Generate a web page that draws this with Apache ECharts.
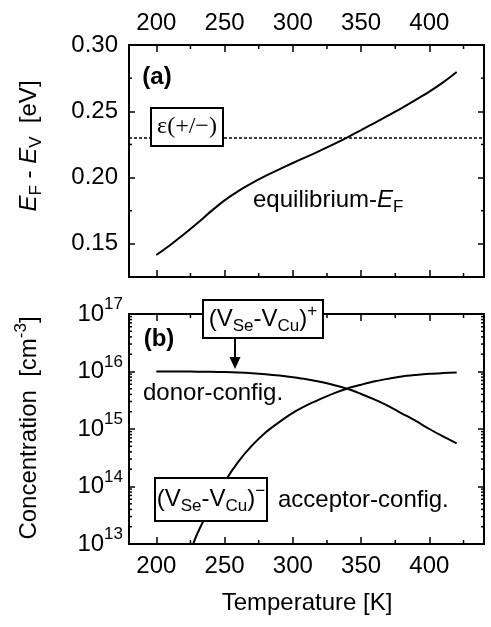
<!DOCTYPE html>
<html>
<head>
<meta charset="utf-8">
<script src="https://cdn.jsdelivr.net/npm/echarts@6/dist/echarts.min.js"></script>
<style>
  html, body { margin: 0; padding: 0; background: #fff; }
  #chart { width: 491px; height: 627px; }
</style>
</head>
<body>
<div id="chart"></div>
<script>
// ---- data -------------------------------------------------------------
// (a) equilibrium Fermi level above the valence band, eV
const temperature = [200, 210, 220, 230, 240, 250, 260, 270, 280, 290, 300, 310,
                     320, 330, 340, 350, 360, 370, 380, 390, 400, 410, 420];
const fermiLevel = [0.1416, 0.149, 0.157, 0.1655, 0.1745, 0.1828, 0.1898, 0.1958,
                    0.2012, 0.2062, 0.2110, 0.2156, 0.2203, 0.2252, 0.2304, 0.2358,
                    0.2413, 0.2469, 0.2526, 0.2586, 0.2648, 0.2718, 0.2797];
// charge transition level eps(+/-)
const transitionLevel = 0.23;

// (b) concentrations of the two complex configurations, cm^-3
const donorConc = [1.0e16, 1.0e16, 1.0e16, 9.95e15, 9.89e15, 9.77e15, 9.59e15, 9.33e15,
                   8.97e15, 8.51e15, 7.94e15, 7.33e15, 6.61e15, 5.82e15, 5.01e15,
                   4.07e15, 3.24e15, 2.51e15, 1.86e15, 1.38e15, 1.0e15, 7.41e14, 5.62e14];
const acceptorTemp = [227, 230, 240, 250, 260, 270, 280, 290, 300, 310, 320, 330,
                      340, 350, 360, 370, 380, 390, 400, 410, 420];
const acceptorConc = [1.0e13, 1.51e13, 4.57e13, 1.20e14, 2.69e14, 5.13e14, 8.71e14,
                      1.32e15, 1.91e15, 2.57e15, 3.31e15, 4.17e15, 5.07e15, 5.89e15,
                      6.76e15, 7.50e15, 8.22e15, 8.71e15, 9.12e15, 9.38e15, 9.59e15];

// ---- ticks ------------------------------------------------------------
const tempMajor = [200, 250, 300, 350, 400];
const tempMinor = [225, 275, 325, 375, 425];
const energyMajor = [0.15, 0.20, 0.25, 0.30];
const energyMinor = [0.175, 0.225, 0.275];
const concMajor = [1e13, 1e14, 1e15, 1e16, 1e17];
const concMinor = [];
for (let e = 13; e < 17; e++) {
  for (let m = 2; m <= 9; m++) concMinor.push(m * Math.pow(10, e));
}

const FONT = '"Liberation Sans", Arial, sans-serif';
const BLACK = '#000';
const T_MIN = 180, T_MAX = 440;
const E_MIN = 0.125, E_MAX = 0.30;
const C_MIN = 1e13, C_MAX = 1e17;

function tickAxis(type, grid, position, min, max, values, len, label) {
  const ax = {
    type: type, gridIndex: grid, position: position, min: min, max: max,
    axisLine: { show: false }, splitLine: { show: false },
    axisTick: { show: true, inside: true, length: len, customValues: values,
                lineStyle: { color: BLACK, width: 1.5 } },
    axisLabel: { show: false }
  };
  if (type === 'log') ax.logBase = 10;
  if (label) ax.axisLabel = Object.assign({ show: true, customValues: values }, label);
  return ax;
}

const tempLabel = { color: BLACK, fontFamily: FONT, fontSize: 24, margin: 10 };
const energyLabel = { color: BLACK, fontFamily: FONT, fontSize: 24, margin: 11, formatter: v => v.toFixed(2) };
const concLabel = {
  color: BLACK, margin: 6,
  formatter: v => '{b|10}{s|' + Math.round(Math.log10(v)) + '}',
  rich: {
    b: { fontFamily: FONT, fontSize: 24, color: BLACK, lineHeight: 36 },
    s: { fontFamily: FONT, fontSize: 17, color: BLACK, verticalAlign: 'top', lineHeight: 17 }
  }
};

const xAxes = [
  tickAxis('value', 0, 'bottom', T_MIN, T_MAX, tempMajor, 7),
  tickAxis('value', 0, 'top', T_MIN, T_MAX, tempMajor, 7, tempLabel),
  tickAxis('value', 1, 'bottom', T_MIN, T_MAX, tempMajor, 7, tempLabel),
  tickAxis('value', 1, 'top', T_MIN, T_MAX, tempMajor, 7)
];
const yAxes = [
  tickAxis('value', 0, 'left', E_MIN, E_MAX, energyMajor, 6, energyLabel),
  tickAxis('value', 0, 'right', E_MIN, E_MAX, energyMajor, 6),
  tickAxis('log', 1, 'left', C_MIN, C_MAX, concMajor, 6, concLabel),
  tickAxis('log', 1, 'right', C_MIN, C_MAX, concMajor, 6)
];

const lineStyle = { color: BLACK, width: 2 };

const option = {
  animation: false,
  backgroundColor: '#fff',
  grid: [
    { left: 129, right: 7, top: 45, height: 232, show: true, borderColor: BLACK, borderWidth: 2, backgroundColor: 'transparent' },
    { left: 129, right: 7, top: 314, height: 230, show: true, borderColor: BLACK, borderWidth: 2, backgroundColor: 'transparent' }
  ],
  xAxis: xAxes,
  yAxis: yAxes,
  series: [
    { name: 'equilibrium-EF', type: 'line', xAxisIndex: 0, yAxisIndex: 0, showSymbol: false, smooth: 0.3,
      lineStyle: lineStyle, data: temperature.map((t, i) => [t, fermiLevel[i]]),
      markLine: {
        silent: true, symbol: 'none', label: { show: false },
        lineStyle: { color: BLACK, width: 1.5, type: [3, 2] },
        data: [{ yAxis: transitionLevel }]
      } },
    { name: 'donor-config.', type: 'line', xAxisIndex: 2, yAxisIndex: 2, showSymbol: false, smooth: 0.3,
      lineStyle: lineStyle, data: temperature.map((t, i) => [t, donorConc[i]]) },
    { name: 'acceptor-config.', type: 'line', xAxisIndex: 2, yAxisIndex: 2, showSymbol: false, smooth: 0.3,
      lineStyle: lineStyle, data: acceptorTemp.map((t, i) => [t, acceptorConc[i]]) }
  ]
};

const chart = echarts.init(document.getElementById('chart'), null, { renderer: 'canvas' });
chart.setOption(option);

// ---- annotations --------------------------------------------------------
const textEl = (text, x, y, extra) => ({
  type: 'text', x: x, y: y, z: 101,
  style: Object.assign({
    text: text, fill: BLACK, fontFamily: FONT, fontSize: 24,
    align: 'center', verticalAlign: 'middle'
  }, extra || {})
});
const boxRect = (x, y, w, h) => ({
  type: 'rect', z: 100,
  shape: { x: x, y: y, width: w, height: h },
  style: { fill: '#fff', stroke: BLACK, lineWidth: 2 }
});
const subSup = {
  n: { fontFamily: FONT, fontSize: 24, fill: BLACK, lineHeight: 32 },
  i: { fontFamily: FONT, fontSize: 24, fill: BLACK, fontStyle: 'italic', lineHeight: 32 },
  sb: { fontFamily: FONT, fontSize: 17, fill: BLACK, verticalAlign: 'bottom', lineHeight: 17 },
  sp: { fontFamily: FONT, fontSize: 17, fill: BLACK, verticalAlign: 'top', lineHeight: 17 }
};

// minor tick marks, placed through the axis scales on both sides of each panel
function minorTicks(gridIndex, xVals, yVals, xMin, xMax, yMin, yMax) {
  const toPx = p => chart.convertToPixel({ gridIndex: gridIndex }, p);
  const lo = toPx([xMin, yMin]);
  const hi = toPx([xMax, yMax]);
  const marks = [];
  const seg = (x1, y1, x2, y2) => marks.push({
    type: 'line', z: 50,
    shape: { x1: x1, y1: y1, x2: x2, y2: y2 },
    style: { stroke: BLACK, lineWidth: 1.5 }
  });
  xVals.forEach(v => {
    const px = toPx([v, yMin])[0];
    if (px > hi[0]) return;
    seg(px, lo[1], px, lo[1] - 4);
    seg(px, hi[1], px, hi[1] + 4);
  });
  yVals.forEach(v => {
    const py = toPx([xMin, v])[1];
    seg(lo[0], py, lo[0] + 3, py);
    seg(hi[0], py, hi[0] - 3, py);
  });
  return marks;
}

let graphics = [];
try {
  graphics = graphics.concat(
    minorTicks(0, tempMinor, energyMinor, T_MIN, T_MAX, E_MIN, E_MAX),
    minorTicks(1, tempMinor, concMinor, T_MIN, T_MAX, C_MIN, C_MAX)
  );
} catch (e) { /* minor ticks are decorative */ }

const yTitleA = textEl('{i|E}{sb|F}{n| - }{i|E}{sb|V}{n|  [eV]}', 29, 146, { rich: subSup });
yTitleA.rotation = Math.PI / 2;
const yTitleB = textEl('{n|Concentration  [cm}{sp|-3}{n|]}', 29, 428, { rich: subSup });
yTitleB.rotation = Math.PI / 2;

graphics = graphics.concat([
  textEl('(a)', 157, 77, { fontWeight: 'bold' }),
  textEl('(b)', 159, 339, { fontWeight: 'bold' }),
  boxRect(151, 108, 72, 38),
  textEl('ε(+/−)', 187, 127, { fontFamily: '"Liberation Serif", "Times New Roman", serif' }),
  textEl('{n|equilibrium-}{i|E}{sb|F}', 253, 200, { align: 'left', rich: subSup }),
  textEl('donor-config.', 143, 393, { align: 'left' }),
  textEl('acceptor-config.', 278, 500, { align: 'left' }),
  boxRect(203, 300, 120, 38),
  textEl('{n|(V}{sb|Se}{n|-V}{sb|Cu}{n|)}{sp|+}', 263, 319, { rich: subSup }),
  { type: 'line', z: 100, shape: { x1: 235, y1: 339, x2: 235, y2: 358 }, style: { stroke: BLACK, lineWidth: 2 } },
  { type: 'polygon', z: 100, shape: { points: [[229.5, 357], [240.5, 357], [235, 369]] }, style: { fill: BLACK } },
  boxRect(155, 478, 112, 43),
  textEl('{n|(V}{sb|Se}{n|-V}{sb|Cu}{n|)}{sp|−}', 211, 499, { rich: subSup }),
  yTitleA,
  yTitleB,
  textEl('Temperature [K]', 307, 603)
]);

chart.setOption({ graphic: graphics });
</script>
</body>
</html>
